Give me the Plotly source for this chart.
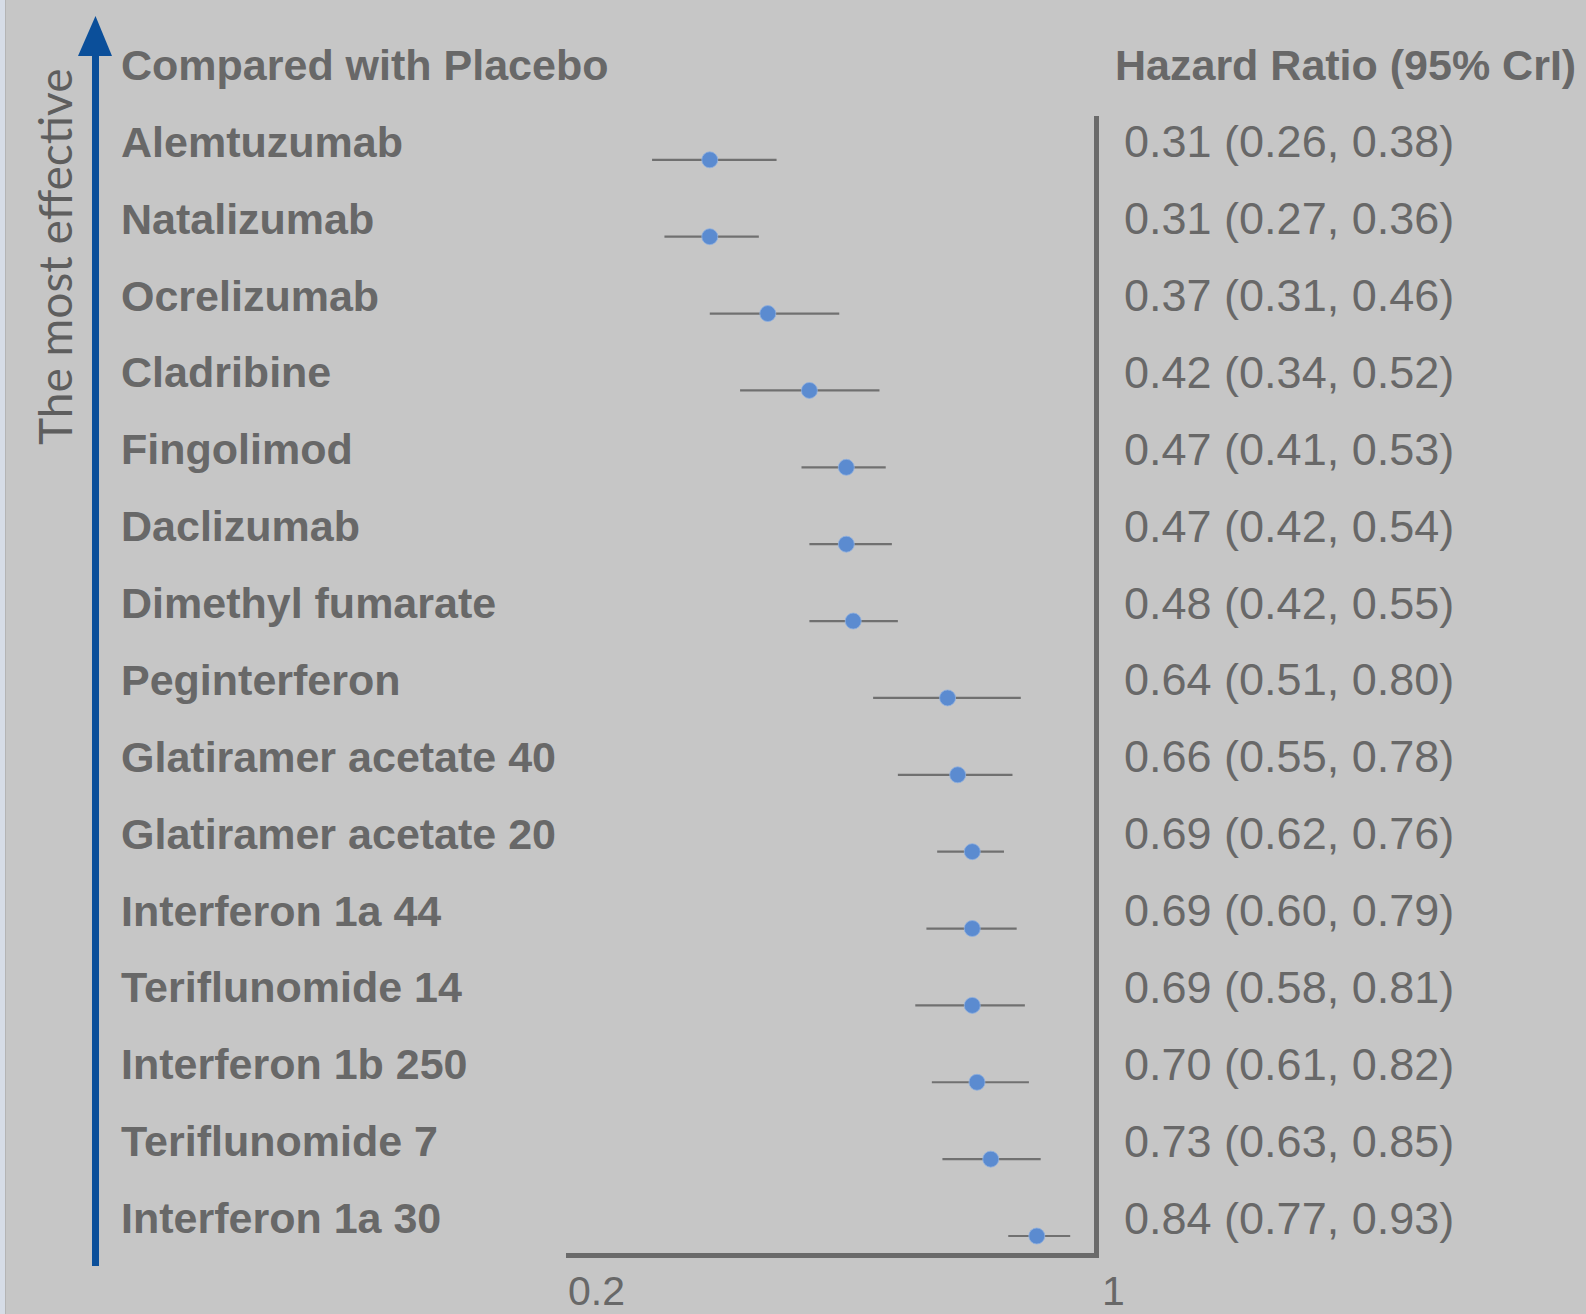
import plotly.graph_objects as go
import math

# ---- data ----
treatments = [
    "Alemtuzumab", "Natalizumab", "Ocrelizumab", "Cladribine", "Fingolimod",
    "Daclizumab", "Dimethyl fumarate", "Peginterferon", "Glatiramer acetate 40",
    "Glatiramer acetate 20", "Interferon 1a 44", "Teriflunomide 14",
    "Interferon 1b 250", "Teriflunomide 7", "Interferon 1a 30",
]
hr = [0.31, 0.31, 0.37, 0.42, 0.47, 0.47, 0.48, 0.64, 0.66, 0.69, 0.69, 0.69, 0.70, 0.73, 0.84]
lo = [0.26, 0.27, 0.31, 0.34, 0.41, 0.42, 0.42, 0.51, 0.55, 0.62, 0.60, 0.58, 0.61, 0.63, 0.77]
hi = [0.38, 0.36, 0.46, 0.52, 0.53, 0.54, 0.55, 0.80, 0.78, 0.76, 0.79, 0.81, 0.82, 0.85, 0.93]
tick_labels = ["0.2", "1"]
x_min, x_max = 0.2, 1.0

rows = list(range(len(treatments)))

# ---- layout geometry (pixels) ----
W, H = 1586, 1314
L, R, T, B = 566, 492, 116, 61
PW, PH = W - L - R, H - T - B

def pxx(x):
    return (x - L) / PW

def pxy(y):
    return (H - B - y) / PH

BG = "#c6c6c6"
TXT = "#686868"
AX = "#6a6a6a"
BLUE = "#0b4f9a"

fig = go.Figure()
fig.add_trace(go.Scatter(
    x=hr, y=rows, mode="markers",
    marker=dict(size=16, color="#5b8bd0", line=dict(width=0.8, color="#8fb0e0")),
    error_x=dict(type="data", symmetric=False,
                 array=[h - m for h, m in zip(hi, hr)],
                 arrayminus=[m - l for m, l in zip(hr, lo)],
                 color="#707070", thickness=2.2, width=0),
    hoverinfo="skip", showlegend=False,
))

ann = []
for i, (name, m, l, h) in enumerate(zip(treatments, hr, lo, hi)):
    ann.append(dict(x=pxx(119), xref="paper", y=i, yref="y", yshift=18,
                    text=name, showarrow=False, xanchor="left", yanchor="middle",
                    font=dict(family="Liberation Sans, Arial", size=43, color=TXT, weight="bold")))
    ann.append(dict(x=pxx(1122), xref="paper", y=i, yref="y", yshift=18,
                    text=f"{m:.2f} ({l:.2f}, {h:.2f})", showarrow=False,
                    xanchor="left", yanchor="middle",
                    font=dict(family="Liberation Sans, Arial", size=45, color=TXT)))

ann.append(dict(x=pxx(119), xref="paper", y=pxy(65), yref="paper",
                text="Compared with Placebo", showarrow=False, xanchor="left", yanchor="middle",
                font=dict(family="Liberation Sans, Arial", size=43, color=TXT, weight="bold")))
ann.append(dict(x=pxx(1113), xref="paper", y=pxy(65), yref="paper",
                text="Hazard Ratio (95% CrI)", showarrow=False, xanchor="left", yanchor="middle",
                font=dict(family="Liberation Sans, Arial", size=43, color=TXT, weight="bold")))
ann.append(dict(x=pxx(566), xref="paper", y=pxy(1291), yref="paper",
                text=tick_labels[0], showarrow=False, xanchor="left", yanchor="middle",
                font=dict(family="Liberation Sans, Arial", size=41, color=TXT)))
ann.append(dict(x=pxx(1100), xref="paper", y=pxy(1291), yref="paper",
                text=tick_labels[1], showarrow=False, xanchor="left", yanchor="middle",
                font=dict(family="Liberation Sans, Arial", size=41, color=TXT)))
ann.append(dict(x=pxx(54), xref="paper", y=pxy(257), yref="paper",
                text="The most effective", textangle=-90, showarrow=False,
                xanchor="center", yanchor="middle",
                font=dict(family="Lato, Open Sans", size=46, color="#5e5e5e")))

shapes = [
    # left light strip
    dict(type="rect", xref="paper", yref="paper", x0=pxx(0), x1=pxx(5), y0=pxy(H), y1=pxy(0),
         fillcolor="#d6dce6", line=dict(width=0), layer="below"),
    dict(type="line", xref="paper", yref="paper", x0=pxx(5.5), x1=pxx(5.5), y0=pxy(H), y1=pxy(0),
         line=dict(color="#b4b4b4", width=1)),
    # arrow shaft
    dict(type="line", xref="paper", yref="paper", x0=pxx(95.5), x1=pxx(95.5),
         y0=pxy(1266), y1=pxy(56), line=dict(color=BLUE, width=7)),
    # arrow head
    dict(type="path", xref="paper", yref="paper",
         path=f"M {pxx(78)} {pxy(56)} L {pxx(95.5)} {pxy(16)} L {pxx(112)} {pxy(56)} Z",
         fillcolor=BLUE, line=dict(width=0)),
]

fig.update_layout(
    width=W, height=H,
    margin=dict(l=L, r=R, t=T, b=B, pad=0),
    paper_bgcolor=BG, plot_bgcolor=BG,
    xaxis=dict(type="log", range=[math.log10(x_min), math.log10(x_max)],
               showline=True, linecolor=AX, linewidth=5, showgrid=False, zeroline=False,
               showticklabels=False, ticks=""),
    yaxis=dict(range=[14.221, -0.570], side="right", showline=True, linecolor=AX, linewidth=5,
               showgrid=False, zeroline=False, showticklabels=False, ticks=""),
    annotations=ann, shapes=shapes, showlegend=False,
)

fig.write_html("out.html",
               config={"displayModeBar": False},
               post_script="document.body.style.margin='0px';document.body.style.background='%s';" % BG)
